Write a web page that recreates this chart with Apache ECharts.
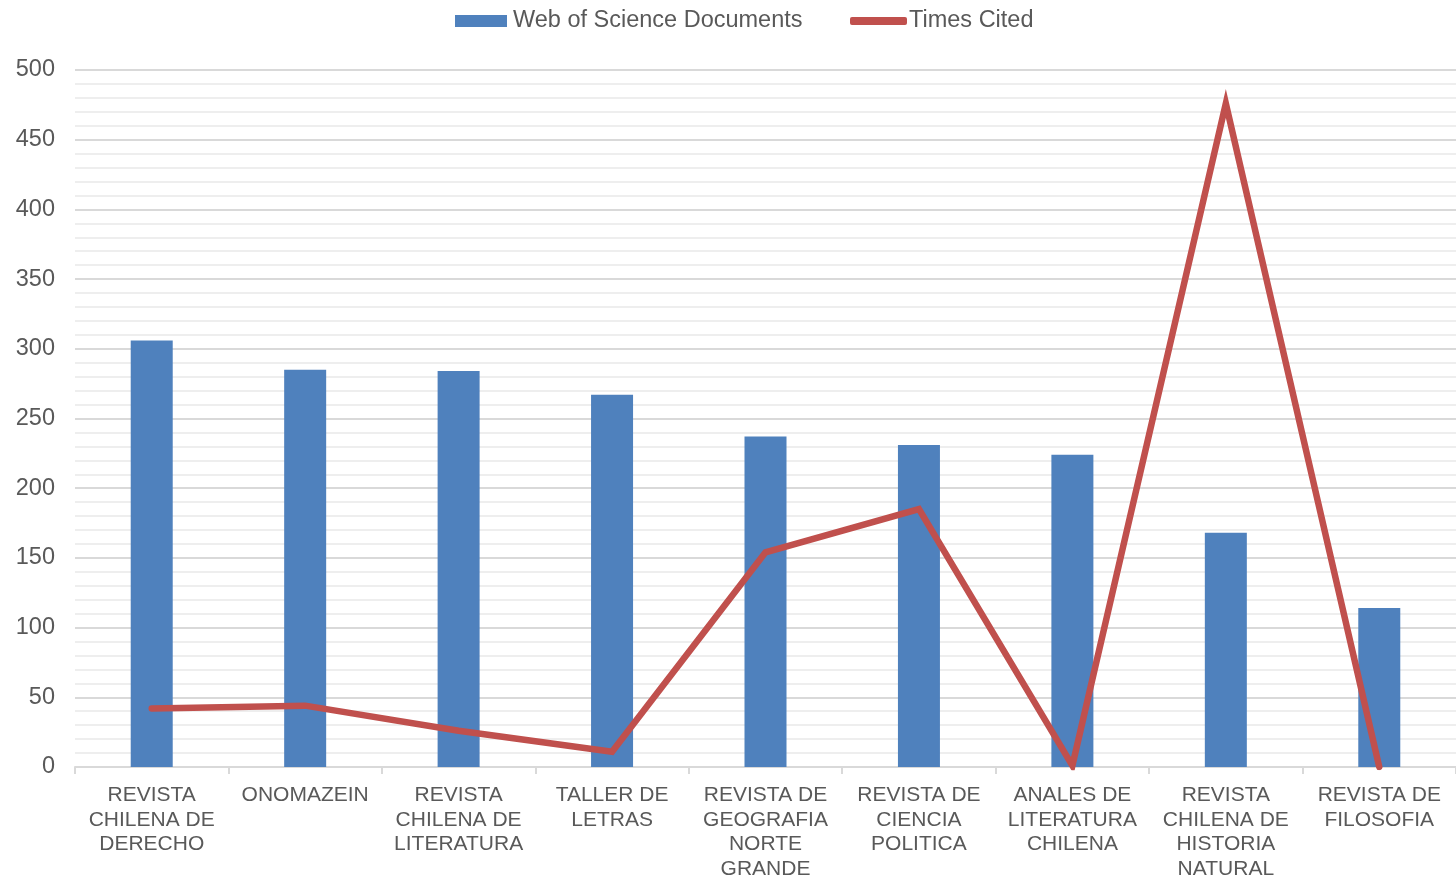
<!DOCTYPE html>
<html>
<head>
<meta charset="utf-8">
<script src="https://cdn.jsdelivr.net/npm/echarts@6/dist/echarts.min.js"></script>
<style>html,body{margin:0;padding:0;background:#fff;}#c{width:1456px;height:881px;}</style>
</head>
<body>
<div id="c"></div>
<script>
const categories = [
  'REVISTA\nCHILENA DE\nDERECHO',
  'ONOMAZEIN',
  'REVISTA\nCHILENA DE\nLITERATURA',
  'TALLER DE\nLETRAS',
  'REVISTA DE\nGEOGRAFIA\nNORTE\nGRANDE',
  'REVISTA DE\nCIENCIA\nPOLITICA',
  'ANALES DE\nLITERATURA\nCHILENA',
  'REVISTA\nCHILENA DE\nHISTORIA\nNATURAL',
  'REVISTA DE\nFILOSOFIA'
];
const wosDocuments = [306, 285, 284, 267, 237, 231, 224, 168, 114];
const timesCited = [42, 44, 26, 11, 154, 185, 1, 476, 0];
const seriesNames = ['Web of Science Documents', 'Times Cited'];

const chart = echarts.init(document.getElementById('c'));
chart.setOption({
  animation: false,
  textStyle: { fontFamily: 'Liberation Sans, Arial, sans-serif' },
  legend: [
    {
      top: 9,
      left: 455,
      padding: 0,
      itemWidth: 52,
      itemHeight: 12,
      itemGap: 0,
      textStyle: { fontSize: 23.5, color: '#595959', padding: [0, 0, 0, 1] },
      data: [{ name: seriesNames[0], icon: 'rect' }]
    },
    {
      top: 9,
      left: 850,
      padding: 0,
      itemWidth: 57,
      itemHeight: 8,
      itemGap: 0,
      textStyle: { fontSize: 23.5, color: '#595959', padding: [0, 0, 0, -3] },
      data: [{ name: seriesNames[1], icon: 'roundRect', itemStyle: { color: '#C0504D' } }]
    }
  ],
  grid: { left: 75, right: 0, top: 70, bottom: 111, containLabel: false },
  xAxis: {
    type: 'category',
    data: categories,
    axisLine: { lineStyle: { color: '#d9d9d9', width: 2 } },
    axisTick: { show: true, length: 7, lineStyle: { color: '#d9d9d9', width: 2 } },
    axisLabel: { fontSize: 21, color: '#595959', lineHeight: 24.5, margin: 16, interval: 0 },
    splitLine: { show: false }
  },
  yAxis: {
    type: 'value',
    min: 0, max: 500, interval: 50,
    axisLine: { show: false },
    axisTick: { show: false },
    axisLabel: { fontSize: 23.5, color: '#595959', margin: 20 },
    splitLine: { lineStyle: { color: '#d9d9d9', width: 2 } },
    minorTick: { show: false, splitNumber: 5 },
    minorSplitLine: { show: true, lineStyle: { color: '#eeeeee', width: 2 } }
  },
  series: [
    {
      name: seriesNames[0],
      type: 'bar',
      data: wosDocuments,
      barWidth: 42,
      itemStyle: { color: '#4F81BD' }
    },
    {
      name: seriesNames[1],
      type: 'line',
      data: timesCited,
      symbol: 'none',
      lineStyle: { color: '#C0504D', width: 6.5, cap: 'round', join: 'miter' },
      itemStyle: { color: '#C0504D' }
    }
  ]
});
</script>
</body>
</html>
